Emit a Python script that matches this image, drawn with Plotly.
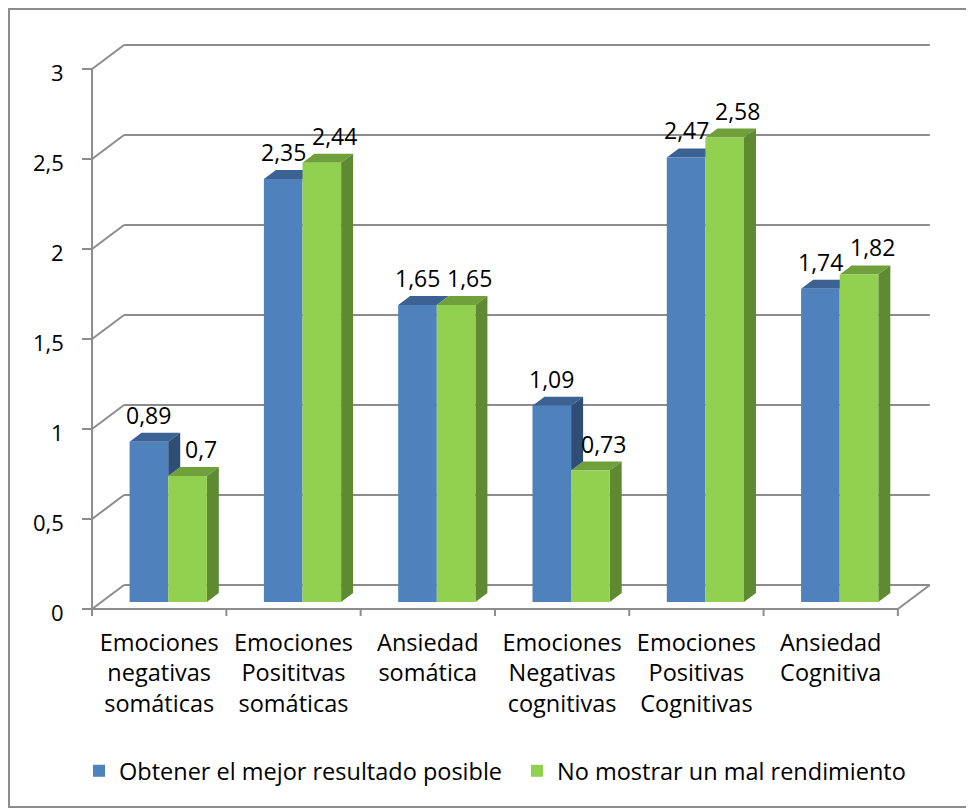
import plotly.graph_objects as go

# ---------------- data ----------------
categories = [
    "Emociones<br>negativas<br>somáticas",
    "Emociones<br>Posititvas<br>somáticas",
    "Ansiedad<br>somática",
    "Emociones<br>Negativas<br>cognitivas",
    "Emociones<br>Positivas<br>Cognitivas",
    "Ansiedad<br>Cognitiva",
]
series_names = ["Obtener el mejor resultado posible", "No mostrar un mal rendimiento"]
mejor_resultado = [0.89, 2.35, 1.65, 1.09, 2.47, 1.74]
no_mal_rendimiento = [0.7, 2.44, 1.65, 0.73, 2.58, 1.82]
y_ticks = [0, 0.5, 1, 1.5, 2, 2.5, 3]
y_tick_labels = ["0", "0,5", "1", "1,5", "2", "2,5", "3"]

# ---------------- styling / geometry ----------------
OFF = 8                      # page body margin of the html page
W_FIG, H_FIG = 974 - OFF, 808 - OFF
L, T = 80 - OFF, 40 - OFF    # plot area left/top (figure px)
PR, PB = 940 - OFF, 620 - OFF  # plot area right/bottom
R, B = W_FIG - PR, H_FIG - PB
PX_X = 134.3          # pixels per category
PX_Y = 180.0          # pixels per unit
X0_PX = 168.2 - OFF   # pixel of category 0 centre (bar plane)
Y0_PX = 602.0 - OFF   # pixel of value 0 (bar plane)
x_range = [(L - X0_PX) / PX_X, (PR - X0_PX) / PX_X]
y_range = [(Y0_PX - PB) / PX_Y, (Y0_PX - T) / PX_Y]
pw, ph = PR - L, PB - T

def dxu(px):
    return px / PX_X

def dyu(px):
    return px / PX_Y

def paper_x(page_px):
    return (page_px - OFF - L) / pw

def paper_y(page_px):
    return (PB - (page_px - OFF)) / ph

FDX, FDY = dxu(-9), dyu(-7)      # front plane offset
BDX, BDY = dxu(23), dyu(17)      # back wall offset
DDX, DDY = dxu(12), dyu(9)       # bar depth
BAR_W = 0.2875

BLUE, BLUE_TOP, BLUE_SIDE = "#4F81BD", "#3B6293", "#2F4E76"
GREEN, GREEN_TOP, GREEN_SIDE = "#92D050", "#70A03C", "#5E8A31"
GRID = "#8C8C8C"
FONT = "Open Sans"
FS = 22
FS_LBL = 23
FS_CAT = 23.5

n = len(categories)
xs = list(range(n))

fig = go.Figure()
fig.add_trace(go.Bar(x=xs, y=mejor_resultado, name=series_names[0], width=BAR_W,
                     offset=-BAR_W, marker=dict(color=BLUE, line=dict(width=0))))
fig.add_trace(go.Bar(x=xs, y=no_mal_rendimiento, name=series_names[1], width=BAR_W,
                     offset=0, marker=dict(color=GREEN, line=dict(width=0))))

shapes = []
def line(x0, y0, x1, y1):
    shapes.append(dict(type="line", xref="x", yref="y", x0=x0, y0=y0, x1=x1, y1=y1,
                       line=dict(color=GRID, width=2), layer="below"))

def poly(pts, color):
    path = "M " + " L ".join(f"{px:.5f},{py:.5f}" for px, py in pts) + " Z"
    shapes.append(dict(type="path", xref="x", yref="y", path=path,
                       fillcolor=color, line=dict(width=0), layer="below"))

x_left, x_right = -0.5, n - 0.5
# back wall grid lines + left wall diagonals + front ticks
for v in y_ticks:
    line(x_left + BDX, v + BDY, x_right + BDX, v + BDY)
    line(x_left + FDX, v + FDY, x_left + BDX, v + BDY)
    line(x_left + FDX - dxu(10), v + FDY, x_left + FDX, v + FDY)
# front vertical axis
line(x_left + FDX, y_ticks[0] + FDY, x_left + FDX, y_ticks[-1] + FDY)
# floor front edge and right diagonal
line(x_left + FDX, FDY, x_right + FDX, FDY)
line(x_right + FDX, FDY, x_right + BDX, BDY)
# category ticks
for k in range(n + 1):
    line(k - 0.5 + FDX, FDY, k - 0.5 + FDX, FDY - dyu(7))

# 3D faces of bars
for i in xs:
    vb, vg = mejor_resultado[i], no_mal_rendimiento[i]
    bx0, bx1 = i - BAR_W, i
    gx0, gx1 = i, i + BAR_W
    blue_faces = [([(bx0, vb), (bx1, vb), (bx1 + DDX, vb + DDY), (bx0 + DDX, vb + DDY)], BLUE_TOP)]
    if vb > vg:
        blue_faces.append(([(bx1, vg), (bx1, vb), (bx1 + DDX, vb + DDY), (bx1 + DDX, vg + DDY)], BLUE_SIDE))
    green_faces = [
        ([(gx0, vg), (gx1, vg), (gx1 + DDX, vg + DDY), (gx0 + DDX, vg + DDY)], GREEN_TOP),
        ([(gx1, 0), (gx1, vg), (gx1 + DDX, vg + DDY), (gx1 + DDX, DDY)], GREEN_SIDE),
    ]
    order = [blue_faces, green_faces] if vb <= vg else [green_faces, blue_faces]
    for group in order:
        for pts, c in group:
            poly(pts, c)

# outer border
shapes.append(dict(type="rect", xref="paper", yref="paper",
                   x0=paper_x(OFF + 1), x1=paper_x(973),
                   y0=paper_y(807), y1=paper_y(OFF + 1),
                   line=dict(color=GRID, width=2), fillcolor="rgba(0,0,0,0)"))

annotations = []
# y tick labels
for v, t in zip(y_ticks, y_tick_labels):
    annotations.append(dict(x=x_left + FDX, y=v + FDY, xref="x", yref="y", text=t,
                            showarrow=False, xanchor="right", yanchor="middle",
                            xshift=-26, yshift=-3, font=dict(family=FONT, size=FS, color="black")))
# data labels
def fmt(v):
    return f"{v:g}".replace(".", ",")
for i in xs:
    annotations.append(dict(x=i - BAR_W / 2, y=mejor_resultado[i], xref="x", yref="y",
                            text=fmt(mejor_resultado[i]), showarrow=False, yanchor="middle",
                            yshift=27, xshift=0, font=dict(family=FONT, size=FS_LBL, color="black")))
    annotations.append(dict(x=i + BAR_W / 2, y=no_mal_rendimiento[i], xref="x", yref="y",
                            text=fmt(no_mal_rendimiento[i]), showarrow=False, yanchor="middle",
                            yshift=27, xshift=13, font=dict(family=FONT, size=FS_LBL, color="black")))

fig.update_layout(
    width=W_FIG, height=H_FIG,
    margin=dict(l=L, r=R, t=T, b=B, autoexpand=False),
    paper_bgcolor="white", plot_bgcolor="white",
    barmode="overlay",
    showlegend=True,
    legend=dict(orientation="h", x=paper_x(79), xanchor="left",
                y=paper_y(771), yanchor="middle", entrywidth=393,
                bgcolor="rgba(0,0,0,0)",
                font=dict(family=FONT, size=FS_CAT, color="black"), traceorder="normal"),
    xaxis=dict(range=x_range, tickvals=xs, ticktext=categories, showgrid=False,
               zeroline=False, showline=False, ticks="", ticklabelshift=-9,
               ticklabelstandoff=6,
               tickfont=dict(family=FONT, size=FS_CAT, color="black"), fixedrange=True),
    yaxis=dict(range=y_range, showgrid=False, zeroline=False, showline=False,
               showticklabels=False, ticks="", fixedrange=True),
    shapes=shapes,
    annotations=annotations,
)

fig.write_html("out.html")
